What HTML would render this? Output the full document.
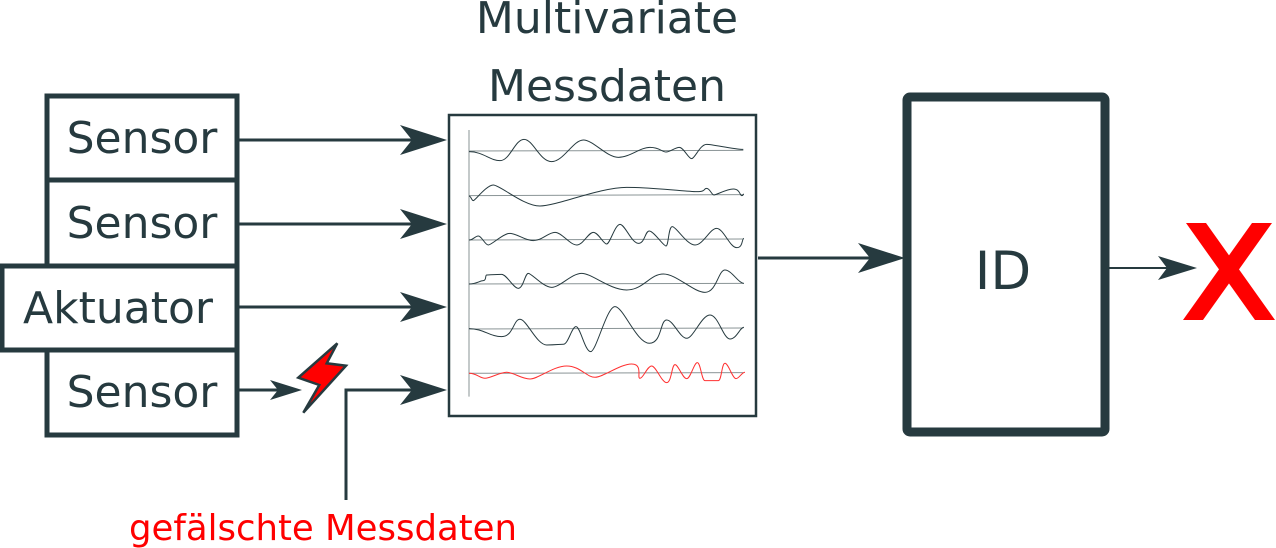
<!DOCTYPE html>
<html><head><meta charset="utf-8"><style>
html,body{margin:0;padding:0;background:#fff;}
svg{display:block;}
text{font-family:"DejaVu Sans","Liberation Sans",sans-serif;}
</style></head><body>
<svg width="1276" height="548" viewBox="0 0 1276 548" xmlns="http://www.w3.org/2000/svg">
<defs>
<g id="ah"><path d="M0 0 L-47 -15 L-35 0 L-47 15 Z" fill="#263a3f"/></g>
</defs>
<g fill="none" stroke="#263a3f" stroke-width="5">
<rect x="47" y="96" width="190" height="84"/>
<rect x="47" y="180" width="190" height="86"/>
<rect x="2" y="266" width="235" height="84"/>
<rect x="47" y="350" width="190" height="85"/>
</g>
<g fill="#263a3f" font-size="44" text-anchor="middle">
<text x="142" y="153">Sensor</text>
<text x="142" y="238">Sensor</text>
<text x="118" y="323">Aktuator</text>
<text x="142" y="407">Sensor</text>
<text x="607" y="33">Multivariate</text>
<text x="607" y="101">Messdaten</text>
<text x="1003" y="289" font-size="53">ID</text>
</g>
<text x="323" y="540" font-size="35.5" fill="#ff0000" text-anchor="middle">gefälschte Messdaten</text>
<g stroke="#263a3f" stroke-width="3" fill="none">
<line x1="237" y1="140" x2="420" y2="140"/>
<line x1="237" y1="224" x2="420" y2="224"/>
<line x1="237" y1="307" x2="420" y2="307"/>
<line x1="237" y1="390" x2="285" y2="390"/>
<polyline points="346,500 346,390 420,390"/>
<line x1="758" y1="258" x2="880" y2="258"/>
</g>
<line x1="1105" y1="268" x2="1175" y2="268" stroke="#263a3f" stroke-width="2"/>
<use href="#ah" x="447" y="140"/>
<use href="#ah" x="447" y="224"/>
<use href="#ah" x="447" y="307"/>
<use href="#ah" x="447" y="390"/>
<use href="#ah" x="905" y="258"/>
<path d="M1197 268 L1158 256 L1167 268 L1158 280 Z" fill="#263a3f"/>
<path d="M302 390 L270 380 L278 390 L270 400 Z" fill="#263a3f"/>
<polygon points="337.3,343.3 326.7,363.3 346,365.7 303.3,412.7 319.3,385 298.3,377.7" fill="#ff0000" stroke="#263a3f" stroke-width="2.5" stroke-linejoin="miter"/>
<rect x="449" y="115" width="307" height="301" fill="none" stroke="#263a3f" stroke-width="2.5"/>
<rect x="907" y="97" width="198" height="335" rx="3" fill="none" stroke="#263a3f" stroke-width="9"/>
<polygon points="1186,223 1206,223 1275,320 1255,320" fill="#ff0000"/>
<polygon points="1252,223 1272,223 1203,320 1183,320" fill="#ff0000"/>
<g transform="translate(440,110) scale(0.3333)" fill="none" stroke-width="3">
<g stroke="#8a9496">
<line x1="87" y1="60" x2="87" y2="860"/>
<line x1="87" y1="123" x2="910" y2="121"/>
<line x1="87" y1="257" x2="910" y2="254"/>
<line x1="87" y1="390" x2="910" y2="387"/>
<line x1="87" y1="522" x2="910" y2="520"/>
<line x1="87" y1="657" x2="910" y2="654"/>
<line x1="87" y1="790" x2="910" y2="788"/>
</g>
<g stroke="#263a3f">
<path d="M87 125 C130 125 150 152 180 152 S225 88 252 88 S300 155 335 155 S400 90 430 90 S500 142 535 142 S600 112 630 112 S665 126 678 126 S705 112 718 112 S745 146 755 146 S780 103 800 103 S880 118 910 118"/>
<path d="M87 258 C93 258 95 272 100 272 S140 225 160 225 S250 288 300 288 S480 232 560 232 S740 245 770 245 S790 235 800 235 S815 255 822 255 S860 237 880 237 S900 257 905 257 S910 252 912 252"/>
<path d="M87 390 C100 390 105 378 115 378 S135 405 145 405 S190 370 210 370 S255 392 280 392 S325 367 345 367 S390 405 410 405 S445 367 460 367 S490 402 500 402 S525 343 540 343 S575 400 595 400 S615 363 628 363 S670 408 678 408 S685 350 697 350 S740 405 765 405 S810 355 830 355 S870 413 890 413 S905 385 912 385"/>
<path d="M87 522 C110 522 120 512 130 512 S135 495 140 495 S170 493 185 493 S220 535 235 535 S255 490 265 490 S310 532 335 532 S395 490 425 490 S510 540 560 540 S630 492 670 492 S760 547 795 547 S835 480 855 480 S895 520 912 520"/>
<path d="M87 656 C130 656 150 680 185 680 S220 628 240 628 S290 705 320 705 S355 703 370 703 S395 650 408 650 S435 725 452 725 S500 590 525 590 S590 700 628 700 S660 630 680 630 S720 685 740 685 S785 615 810 615 S850 687 870 687 S900 652 912 652"/>
</g>
<path stroke="#ff3030" d="M87 790 C110 790 120 805 135 805 S180 787 200 787 S245 807 270 807 S340 768 380 768 S440 802 465 802 S540 762 575 762 S590 805 600 805 S622 768 635 768 S665 818 680 818 S695 764 705 764 S728 806 740 806 S762 758 772 758 S785 812 795 812 S825 812 835 812 S845 760 855 760 S878 806 888 806 S905 787 915 787"/>
</g>
</svg>
</body></html>
